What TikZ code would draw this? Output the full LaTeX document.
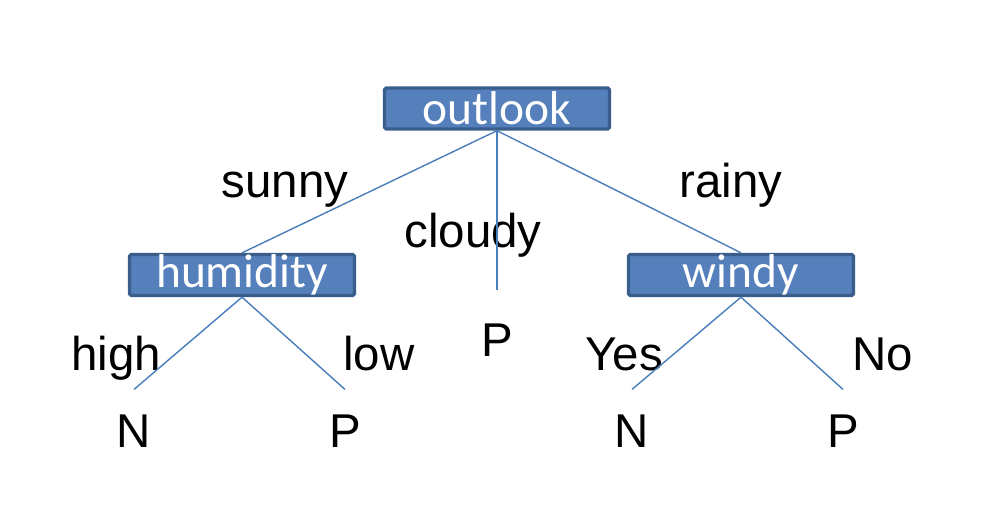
\documentclass[tikz,border=0pt]{standalone}
\usepackage{fontspec}
\setmainfont{Liberation Sans}
\newfontfamily\boxfont{Carlito}
\usepackage{xcolor}
\usepackage{tikz}
\usetikzlibrary{shapes,arrows,calc}

\definecolor{boxblue}{HTML}{5580BC}
\definecolor{boxedge}{HTML}{3A5E8C}
\definecolor{linkblue}{HTML}{4A7EBB}

\begin{document}
\begin{tikzpicture}[x=0.02cm, y=-0.02cm,
    block/.style={rectangle, draw=boxedge, line width=1.9pt, fill=boxblue, text=white, rounded corners=1pt,
        font=\boxfont\fontsize{27}{32}\selectfont, minimum width=4.5cm, minimum height=0.82cm, inner sep=0pt},
    lbl/.style={anchor=base, font=\fontsize{27}{32}\selectfont, inner sep=0pt},
    leaf/.style={anchor=base, font=\fontsize{27}{32}\selectfont, inner xsep=2pt, inner ysep=14pt},
    link/.style={draw=linkblue, line width=0.8pt}]

    \useasboundingbox (0,0) rectangle (1002,512);

    % Attribute nodes
    \node[block] (outlook) at (497,108.5) {outlook};
    \node[block] (humidity) at (242,275) {humidity};
    \node[block] (windy) at (741,275) {windy};

    % Leaves
    \node[leaf, inner ysep=19pt] (pcloudy) at (497,356) {P};
    \node[leaf] (nhigh) at (134,447) {N};
    \node[leaf] (plow) at (345,447) {P};
    \node[leaf] (nyes) at (632,447) {N};
    \node[leaf] (pno) at (843,447) {P};

    % Branch labels
    \node[lbl] (sunny) at (285,197) {sunny};
    \node[lbl] (cloudy) at (473,247) {cloudy};
    \node[lbl] (rainy) at (731,197) {rainy};
    \node[lbl] (high) at (116,370) {high};
    \node[lbl] (low) at (379,370) {low};
    \node[lbl] (yes) at (624,370) {Yes};
    \node[lbl] (no) at (883,370) {No};

    % Branches
    \draw[link] (outlook.south) -- (humidity.north);
    \draw[link] (outlook.south) -- (pcloudy.north);
    \draw[link] (outlook.south) -- (windy.north);
    \draw[link] (humidity.south) -- (nhigh.north);
    \draw[link] (humidity.south) -- (plow.north);
    \draw[link] (windy.south) -- (nyes.north);
    \draw[link] (windy.south) -- (pno.north);

\end{tikzpicture}
\end{document}
